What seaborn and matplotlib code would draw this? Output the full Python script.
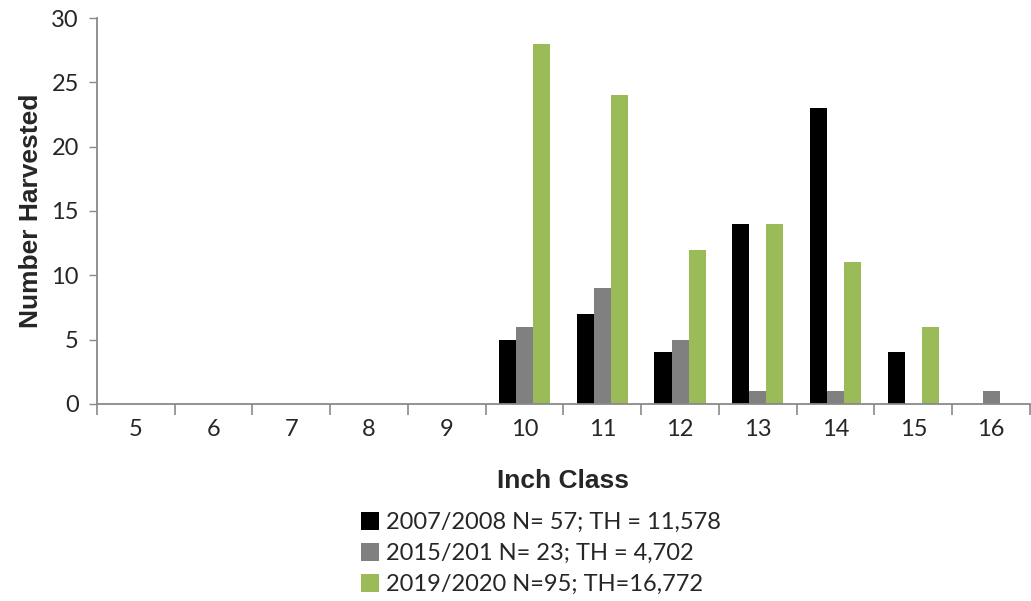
import matplotlib
matplotlib.use("Agg")
import matplotlib.pyplot as plt
import seaborn as sns
import pandas as pd
import numpy as np

# data
inch_classes = ["5", "6", "7", "8", "9", "10", "11", "12", "13", "14", "15", "16"]
series_names = ["2007/2008 N= 57; TH = 11,578",
                "2015/201 N= 23; TH = 4,702",
                "2019/2020 N=95; TH=16,772"]
harvest_0708 = [0, 0, 0, 0, 0, 5, 7, 4, 14, 23, 4, 0]
harvest_1516 = [0, 0, 0, 0, 0, 6, 9, 5, 1, 1, 0, 1]
harvest_1920 = [0, 0, 0, 0, 0, 28, 24, 12, 14, 11, 6, 0]
colors = ["#000000", "#808080", "#9BBB59"]

rows = []
for name, vals in zip(series_names, [harvest_0708, harvest_1516, harvest_1920]):
    for c, v in zip(inch_classes, vals):
        rows.append({"Inch Class": c, "Number Harvested": v, "series": name})
df = pd.DataFrame(rows)

sns.set_style("white")
plt.rcParams["font.family"] = ["Lato", "DejaVu Sans"]

fig = plt.figure(figsize=(10.31, 6.01), dpi=100)
ax = fig.add_axes([0.094, 0.328, 0.905, 0.642])

sns.barplot(data=df, x="Inch Class", y="Number Harvested", hue="series",
            order=inch_classes, hue_order=series_names, palette=colors,
            width=0.66, linewidth=0, saturation=1, ax=ax)

ax.set_ylim(0, 30)
ax.set_xlim(-0.5, len(inch_classes) - 0.5)
ax.set_yticks(range(0, 31, 5))
ax.tick_params(axis="y", labelsize=17, length=6, width=1, color="#898989",
               direction="out", left=True, pad=7)
ax.tick_params(axis="x", which="major", labelsize=17, length=0, pad=11)
ax.set_xticks(np.arange(-0.5, len(inch_classes) - 0.4, 1), minor=True)
ax.tick_params(axis="x", which="minor", length=8, width=1.2, color="#898989",
               direction="out", bottom=True)

for s in ["top", "right"]:
    ax.spines[s].set_visible(False)
for s in ["left", "bottom"]:
    ax.spines[s].set_color("#898989")
    ax.spines[s].set_linewidth(1.3)

ax.set_xlabel("Inch Class", fontsize=19, fontweight="bold",
              family="Liberation Sans", labelpad=21)
ax.set_ylabel("Number Harvested", fontsize=19, fontweight="bold",
              family="Liberation Sans", labelpad=6)

ax.legend(loc="lower center", bbox_to_anchor=(0.525, -0.006),
          bbox_transform=fig.transFigure, frameon=False, fontsize=17,
          handlelength=0.75, handleheight=0.75, handletextpad=0.3,
          labelspacing=0.42, borderaxespad=0)

fig.savefig("out.png", dpi=100)
